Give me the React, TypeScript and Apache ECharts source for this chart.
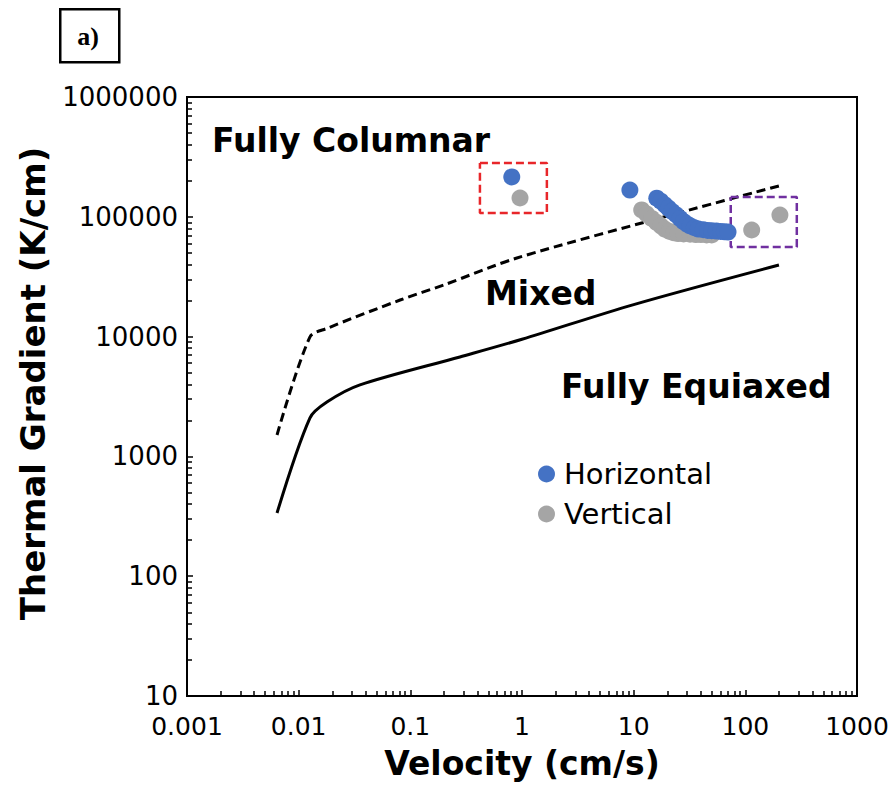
import React, { useEffect, useRef } from 'react';
import * as echarts from 'echarts';

// Boundary curves (velocity cm/s, thermal gradient K/cm)
const columnarBoundary: [number, number][] = [
  [0.0064, 1510], [0.0126, 9900], [0.0179, 11700], [0.081, 20200],
  [0.2, 27000], [0.9, 45300], [27.5, 110000], [200, 181000],
];
const equiaxedBoundary: [number, number][] = [
  [0.0064, 337], [0.0126, 2090], [0.0179, 2840], [0.0354, 3950],
  [0.278, 6760], [1, 9500], [10, 18500], [200, 39600],
];

// Measured points
const horizontalData: [number, number][] = [
  [0.81, 215000], [9.25, 167000],
  [16.1, 143000], [17.5, 135000], [19, 126000], [20.5, 118000], [22, 111000],
  [24, 104000], [26, 97000], [28, 91000], [30, 87000], [32, 84000], [35, 81000],
  [38, 79000], [42, 78000], [46, 77000], [50, 76500], [55, 76000], [60, 75500],
  [65, 75000], [70, 74500],
];
const verticalData: [number, number][] = [
  [0.96, 143500], [11.8, 114000], [13, 106000], [14.5, 97000], [16, 90000],
  [17.5, 84000], [19, 79000], [21, 75500], [23, 73500], [25, 72500], [28, 72000],
  [32, 71500], [36, 71000], [40, 71000], [45, 70500], [50, 70500],
  [114, 77600], [204, 103500],
];

// Highlight boxes (corner values)
const redBox: [number, number][] = [[0.42, 281000], [1.67, 281000], [1.67, 107600], [0.42, 107600], [0.42, 281000]];
const purpleBox: [number, number][] = [[74, 146000], [289, 146000], [289, 56000], [74, 56000], [74, 146000]];

const xTickLabels = ['0.001', '0.01', '0.1', '1', '10', '100', '1000'];
const yTickLabels = ['10', '100', '1000', '10000', '100000', '1000000'];

const FONT = 'DejaVu Sans';

function labelFor(list: string[], v: number): string {
  const hit = list.find((s) => Math.abs(Math.log10(Number(s)) - Math.log10(v)) < 1e-6);
  return hit ?? '';
}

export default function App() {
  const ref = useRef<HTMLDivElement>(null);
  useEffect(() => {
    if (!ref.current) return;
    const chart = echarts.init(ref.current, null, { renderer: 'svg' });
    const option: any = {
      animation: false,
      backgroundColor: '#ffffff',
      grid: {
        left: 187, right: 35, top: 97, bottom: 93,
        show: true, borderColor: '#000', borderWidth: 2, backgroundColor: 'transparent',
      },
      xAxis: {
        type: 'log', logBase: 10, min: 0.001, max: 1000,
        name: 'Velocity (cm/s)', nameLocation: 'middle', nameGap: 51,
        nameTextStyle: { fontFamily: FONT, fontWeight: 'bold', fontSize: 33, color: '#000' },
        axisLine: { lineStyle: { color: '#000', width: 2 } },
        axisTick: { inside: true, length: 6, lineStyle: { color: '#000', width: 1.5 } },
        minorTick: { show: true, splitNumber: 9, length: 5, lineStyle: { color: '#000', width: 1.5 } },
        splitLine: { show: false },
        minorSplitLine: { show: false },
        axisLabel: {
          fontFamily: FONT, fontSize: 25, color: '#000', margin: 18,
          formatter: (v: number) => labelFor(xTickLabels, v),
        },
      },
      yAxis: {
        type: 'log', logBase: 10, min: 10, max: 1000000,
        name: 'Thermal Gradient (K/cm)', nameLocation: 'middle', nameGap: 137,
        nameTextStyle: { fontFamily: FONT, fontWeight: 'bold', fontSize: 34, color: '#000', padding: [0, 0, 0, 26] },
        axisLine: { lineStyle: { color: '#000', width: 2 } },
        axisTick: { inside: true, length: 6, lineStyle: { color: '#000', width: 1.5 } },
        minorTick: { show: true, splitNumber: 9, length: 5, lineStyle: { color: '#000', width: 1.5 } },
        splitLine: { show: false },
        minorSplitLine: { show: false },
        axisLabel: {
          fontFamily: FONT, fontSize: 26, color: '#000', margin: 9,
          formatter: (v: number) => labelFor(yTickLabels, v),
        },
      },
      legend: {
        data: ['Horizontal', 'Vertical'],
        orient: 'vertical', left: 533, top: 452,
        itemWidth: 17, itemHeight: 17, itemGap: 6, icon: 'circle',
        textStyle: { fontFamily: FONT, fontSize: 29, color: '#000', lineHeight: 34, padding: [0, 0, 0, 4] },
      },
      series: [
        {
          name: 'columnar', type: 'line', data: columnarBoundary, symbol: 'none',
          smooth: 0.3,
          lineStyle: { color: '#000', width: 3, type: [9, 5] }, z: 2,
        },
        {
          name: 'equiaxed', type: 'line', data: equiaxedBoundary, symbol: 'none',
          smooth: 0.3,
          lineStyle: { color: '#000', width: 3 }, z: 2,
        },
        {
          name: 'redBox', type: 'line', data: redBox, symbol: 'none',
          lineStyle: { color: '#E8262A', width: 2.5, type: [8, 4] }, z: 3,
        },
        {
          name: 'purpleBox', type: 'line', data: purpleBox, symbol: 'none',
          lineStyle: { color: '#7030A0', width: 2.5, type: [8, 4] }, z: 3,
        },
        {
          name: 'Vertical', type: 'scatter', data: verticalData, symbol: 'circle', symbolSize: 17,
          itemStyle: { color: '#A5A5A5', opacity: 1 }, z: 4,
        },
        {
          name: 'Horizontal', type: 'scatter', data: horizontalData, symbol: 'circle', symbolSize: 17,
          itemStyle: { color: '#4472C4', opacity: 1 }, z: 5,
        },
      ],
      graphic: [
        {
          type: 'rect', left: 59, top: 8,
          shape: { width: 59, height: 53 },
          style: { fill: '#fff', stroke: '#000', lineWidth: 2.5 },
        },
        {
          type: 'text', x: 88, y: 36,
          style: { text: 'a)', font: 'bold 26px "Liberation Serif"', fill: '#000', align: 'center', verticalAlign: 'middle' },
        },
        {
          type: 'text', x: 212, y: 140,
          style: { text: 'Fully Columnar', font: `bold 33px "${FONT}"`, fill: '#000', align: 'left', verticalAlign: 'middle' },
        },
        {
          type: 'text', x: 485, y: 293,
          style: { text: 'Mixed', font: `bold 33px "${FONT}"`, fill: '#000', align: 'left', verticalAlign: 'middle' },
        },
        {
          type: 'text', x: 561, y: 386,
          style: { text: 'Fully Equiaxed', font: `bold 33px "${FONT}"`, fill: '#000', align: 'left', verticalAlign: 'middle' },
        },
      ],
    };
    chart.setOption(option);
    return () => chart.dispose();
  }, []);
  return (
    <div
      ref={ref}
      style={{ position: 'fixed', left: 0, top: 0, width: 892, height: 789 }}
    />
  );
}
